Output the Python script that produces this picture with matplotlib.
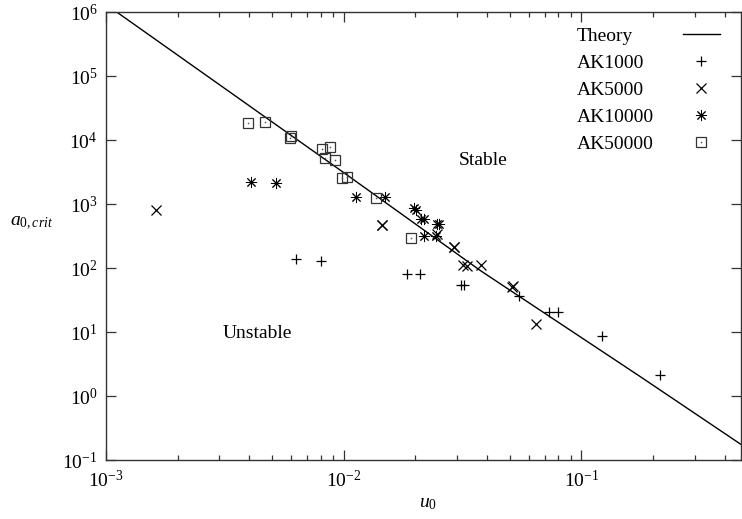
import matplotlib
matplotlib.use('Agg')
import matplotlib.pyplot as plt
import matplotlib.ticker as mticker
from matplotlib.lines import Line2D
from matplotlib.legend_handler import HandlerTuple

plt.rcParams['font.family'] = ['Liberation Serif', 'DejaVu Serif']
plt.rcParams['mathtext.fontset'] = 'custom'
plt.rcParams['mathtext.rm'] = 'Liberation Serif'
plt.rcParams['mathtext.it'] = 'Liberation Serif:italic'
plt.rcParams['mathtext.default'] = 'regular'

# ---- data ----
theory_u = [1.109e-3, 1.024e-2, 3.756e-2, 0.1772, 0.4676]
theory_a = [1.0e6, 2906, 91.2, 1.995, 0.1763]

ak1000_u = [0.00630, 0.00804, 0.01845, 0.0210, 0.0310, 0.0321, 0.0546, 0.0733, 0.0796, 0.1219, 0.2138]
ak1000_a = [139, 128, 81, 81, 55, 55, 36.6, 20.3, 20.3, 8.53, 2.14]

ak5000_u = [0.00163, 0.01449, 0.0145, 0.0247, 0.0290, 0.0292, 0.0319, 0.0331, 0.0378, 0.0511, 0.0514, 0.0645]
ak5000_a = [793, 462, 470, 343, 211, 215, 113, 107, 112, 51, 52, 13.3]

ak10000_u = [0.00408, 0.00519, 0.01129, 0.01490, 0.01982, 0.02018, 0.02118, 0.02181, 0.02466, 0.02517, 0.0218, 0.0245]
ak10000_a = [2203, 2153, 1282, 1291, 875, 813, 588, 573, 479, 491, 311, 311]

ak50000_u = [0.00397, 0.00465, 0.00593, 0.00601, 0.00807, 0.00877, 0.00832, 0.00921, 0.00981, 0.01030, 0.01364, 0.01923]
ak50000_a = [18620, 19400, 10910, 11430, 7350, 7790, 5220, 4950, 2510, 2653, 1236, 292]

labels = ['Theory', 'AK1000', 'AK5000', 'AK10000', 'AK50000']

FS = 14
fig = plt.figure(figsize=(7.42, 5.19), dpi=100)
ax = fig.add_axes([106/742, 59/519, 634.7/742, 448/519])

h_th, = ax.plot(theory_u, theory_a, color='k', lw=1.0)
h1, = ax.plot(ak1000_u, ak1000_a, ls='none', marker='+', ms=7, mew=0.9, color='k')
h2, = ax.plot(ak5000_u, ak5000_a, ls='none', marker='x', ms=7, mew=0.9, color='k')
h3, = ax.plot(ak10000_u, ak10000_a, ls='none', marker=(8, 2, 0), ms=8, mew=0.7, color='k')
h4, = ax.plot(ak50000_u, ak50000_a, ls='none', marker='s', ms=7.7, mew=0.9,
              mfc='none', mec='#333333')
h4d, = ax.plot(ak50000_u, ak50000_a, ls='none', marker='o', ms=1.2, mew=0,
               color='#555555')

ax.set_xscale('log')
ax.set_yscale('log')
ax.set_xlim(1e-3, 0.4676)
ax.set_ylim(0.1, 1e6)

ax.xaxis.set_major_locator(mticker.LogLocator(base=10, numticks=20))
ax.xaxis.set_minor_locator(mticker.LogLocator(base=10, subs=range(2, 10), numticks=20))
ax.xaxis.set_minor_formatter(mticker.NullFormatter())
ax.yaxis.set_major_locator(mticker.LogLocator(base=10, numticks=20))
ax.yaxis.set_minor_locator(mticker.NullLocator())

ax.tick_params(which='both', direction='in', top=True, right=True, color='#333333', width=0.9)
ax.tick_params(which='major', length=7.2, labelsize=FS)
ax.tick_params(which='minor', length=3.6)
ax.tick_params(axis='x', which='major', pad=7)
ax.tick_params(axis='y', which='major', pad=6)

for s in ax.spines.values():
    s.set_color('#333333')
    s.set_linewidth(1.0)

ax.set_xlabel(r'$\mathit{u}_{0}$', fontsize=FS)
ax.xaxis.label.set_va('center')
ax.xaxis.set_label_coords(0.508, -0.097)
ax.set_ylabel(r'$\mathit{a}_{0,\mathit{crit}}$', fontsize=FS, rotation=0, ha='center', va='center')
ax.yaxis.set_label_coords(-0.118, 0.529)

ax.text(0.0386, 4810, 'Stable', ha='center', va='center', fontsize=FS)
ax.text(0.00431, 9.5, 'Unstable', ha='center', va='center', fontsize=FS)

# legend: texts column and symbols column
ytop = 0.966
dummies = [Line2D([], [], ls='none') for _ in labels]
leg_text = ax.legend(dummies, labels, loc='upper left', bbox_to_anchor=(0.742, ytop),
                     handlelength=0, handletextpad=0, frameon=False, borderpad=0,
                     borderaxespad=0, labelspacing=0.48, fontsize=FS)
ax.add_artist(leg_text)
ax.legend([h_th, h1, h2, h3, (h4, h4d)], [' '] * 5, loc='upper left',
          bbox_to_anchor=(0.9087, ytop), handlelength=1.9, handletextpad=0,
          frameon=False, borderpad=0, borderaxespad=0, labelspacing=0.48,
          fontsize=FS, numpoints=1, handler_map={tuple: HandlerTuple(ndivide=1, pad=0)})

fig.savefig('out.png', dpi=100)
